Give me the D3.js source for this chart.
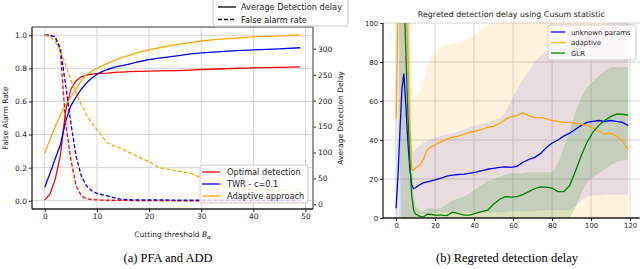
<!DOCTYPE html>
<html>
<head>
<meta charset="utf-8">
<script src="https://cdn.jsdelivr.net/npm/d3@7"></script>
<style>
  body { margin: 0; background: #fff; }
  text { font-family: "DejaVu Sans", sans-serif; fill: #222; }
  .caption { font-family: "Liberation Serif", serif; font-size: 12.5px; fill: #000; }
</style>
</head>
<body>
<svg id="chart" width="640" height="269"></svg>
<script>
// ---------- data, left panel (PFA and ADD) ----------
const thresholds = [0,1,2,3,4,5,6,7,8,9,10,11,12,13,14,15,16,18,20,22,25,28,30,33,36,40,45,49];

// false alarm rate (left axis, dashed)
const pfaOptimal  = [1.0,1.0,0.99,0.9,0.47,0.25,0.09,0.03,0.012,0.007,0.005,0.004,0.003,0.003,0.002,0.002,0.002,0.001,0.001,0.001,0,0,0,0,0,0,0,0];
const pfaTwr      = [1.0,1.0,0.99,0.92,0.7,0.47,0.27,0.15,0.09,0.06,0.045,0.037,0.03,0.02,0.012,0.008,0.006,0.005,0.005,0.005,0.004,0.004,0.004,0.003,0.003,0.003,0.003,0.003];
const pfaAdaptive = [1.0,0.99,0.96,0.91,0.82,0.73,0.65,0.58,0.52,0.47,0.43,0.39,0.35,0.335,0.325,0.31,0.295,0.265,0.235,0.2,0.183,0.165,0.14,0.1,0.075,0.066,0.065,0.064];

// average detection delay (right axis, solid)
const addOptimal  = [8,20,48,95,180,222,238,246,249,251,252,252.5,253,254,255,255,256,256.5,257,257.5,258,259,260,261,262,263,264,265];
const addTwr      = [33,60,88,115,160,190,207,222,234,243,251,256,260,263,266,268,270,275,279,282,286,290,292,294,296,298,300,302];
const addAdaptive = [99,125,150,172,192,207,222,238,250,257,262,267,272,276,280,284,287,293,298,302,308,312,315,318,320,323,325,327];

const leftSeries = ["Optimal detection", "TWR - c=0.1", "Adaptive approach"];

// ---------- data, right panel (regreted delay) ----------
const steps = [0,1,2,3,4,5,6,7,8,9,10,12,14,16,18,20,23,26,29,32,35,38,41,44,47,50,53,56,59,62,65,68,71,74,77,80,83,86,89,92,95,98,101,104,107,110,113,116,119];

const unknownMean = [5,22,45,66,74,58,40,26,17,15,15.5,17,18,18.5,19,19.5,20.5,21.5,22,22.3,22.5,23,23.5,24.3,25,25.5,26,26.2,26,26.5,28.5,30,31,33,36,38.5,40,42,43.5,45.5,47.5,49,49.5,50,49.5,50,49.5,49,47.5];
const unknownLo   = [-5,-10,-40,-40,-50,-50,-40,-5,-3,-3,-3,1,2,2,2.5,2.5,3,3,3,3,3,3,3,3,3,3,3,3,3.5,3.5,3.5,3.5,3.5,4,4,4,4,4,4,6,9,11,11.5,11.5,12,12,12,12,12];
const unknownHi   = [15,60,140,180,200,170,120,60,38,34,35,37,38.5,39.5,40.5,41,42,43,43.5,44.5,45.5,46.5,47.5,48.5,49,50,51,54,60,66,71,75,80,83,85.5,87,88.5,90,91,92.5,94,95.5,96.5,97.5,99,100,102,104,106];

const adaptiveMean = [51,105,150,165,150,125,85,45,25,24.5,25.5,27,30,35,36.5,37.5,39,40.5,41.5,42,43,44,44.5,45.5,46.5,47,48.5,50.5,52,52.5,54,52.5,51.5,51.5,51,50,49.5,49,49,48.5,48,47.5,46,44.5,43,43.5,42,39.5,35];
const adaptiveLo   = [40,45,30,0,-30,-40,-40,-30,-20,-15,-10,-10,-10,-10,-10,-10,-10,-10,-10,-10,-10,-10,-10,-10,-10,-10,-10,-10,-10,-10,-10,-10,-10,-10,-10,-10,-10,-10,-10,-10,-10,-10,-10,-10,-10,-10,-10,-10,-10];
const adaptiveHi   = [62,180,300,330,300,280,200,120,70,63,63,64,70,78,83,85,87.5,89,89.5,90,91,92.5,94,97,99,101,103,105,106,107,108,108,108,108,108,108,108,108,108,108,108,108,108,108,108,108,108,108,108];

const glrMean = [130,180,200,170,120,85,55,30,12,4,2,1,0.5,2,1.8,1.5,1.5,1.2,3,2.2,1.5,1.5,2.5,3.3,4,7,9.5,11,10.7,11,12,13.5,15,16,15.8,15.3,13.5,13.5,16.5,24,32,39,44,47.5,50,52,53.3,53.2,52.8];
const glrLo   = [120,150,20,-50,-50,-50,-40,-20,-10,-5,-3,-3,-3,-3,-3,-3,-3,-3,-3,-3,-3,-3,-3,-3,-3,-3,-2,-2,-2,-2,-2,-2,-2,-2,-2,-2,-2,-1,0,5,13,18,21,23,25,27,28.5,29.5,30];
const glrHi   = [140,210,300,350,300,250,170,90,35,12,6,4,3.5,5,5,4.5,5,7,9,10,11,13,15,17,19,20,21,22,23,23,23,23.5,23.5,23.5,23.5,23.5,28,36,45,54,62,67,70,73,75.5,77,77.5,77.5,77.5];

const rightSeries = ["unknown params", "adaptive", "GLR"];

// ---------- setup ----------
const svg = d3.select("#chart");
const red = "#ff0000", blue = "#0000ff", orange = "#ffa500", green = "#008000";
const gridColor = "#d4d4d4";

function styleAxis(g, size) {
  g.select(".domain").remove();
  g.selectAll(".tick line").attr("stroke", "#222");
  g.selectAll(".tick text").style("font-size", size + "px").attr("fill", "#222");
}

// ================= left panel =================
const L = {x0: 32, x1: 313, y0: 27, y1: 209};
const xL = d3.scaleLinear().domain([-2.45, 51.45]).range([L.x0, L.x1]);
const yL = d3.scaleLinear().domain([-0.05, 1.05]).range([L.y1, L.y0]);
const yR = d3.scaleLinear().domain([-9, 342]).range([L.y1, L.y0]);

const left = svg.append("g");

left.append("clipPath").attr("id", "clipL")
  .append("rect").attr("x", L.x0).attr("y", L.y0).attr("width", L.x1 - L.x0).attr("height", L.y1 - L.y0);

// grid
const xTicksL = [0, 10, 20, 30, 40, 50];
const yTicksL = [0, 0.2, 0.4, 0.6, 0.8, 1.0];
left.append("g").selectAll("line").data(xTicksL).join("line")
  .attr("x1", d => xL(d)).attr("x2", d => xL(d)).attr("y1", L.y0).attr("y2", L.y1)
  .attr("stroke", gridColor).attr("stroke-width", 1);
left.append("g").selectAll("line").data(yTicksL).join("line")
  .attr("x1", L.x0).attr("x2", L.x1).attr("y1", d => yL(d)).attr("y2", d => yL(d))
  .attr("stroke", gridColor).attr("stroke-width", 1);

// axes
left.append("g").attr("transform", `translate(0,${L.y1})`)
  .call(d3.axisBottom(xL).tickValues(xTicksL).tickSize(3).tickPadding(2))
  .call(g => styleAxis(g, 7.5));
left.append("g").attr("transform", `translate(${L.x0},0)`)
  .call(d3.axisLeft(yL).tickValues(yTicksL).tickFormat(d3.format(".1f")).tickSize(3).tickPadding(2))
  .call(g => styleAxis(g, 7.5));
left.append("g").attr("transform", `translate(${L.x1},0)`)
  .call(d3.axisRight(yR).tickValues([0, 50, 100, 150, 200, 250, 300]).tickSize(3).tickPadding(2))
  .call(g => styleAxis(g, 7.5));

// curves
const pfaData = [pfaOptimal, pfaTwr, pfaAdaptive];
const addData = [addOptimal, addTwr, addAdaptive];
const colorsL = [red, blue, orange];

const plotL = left.append("g").attr("clip-path", "url(#clipL)");
addData.forEach((vals, k) => {
  plotL.append("path")
    .datum(vals)
    .attr("fill", "none").attr("stroke", colorsL[k]).attr("stroke-width", 1.3)
    .attr("d", d3.line().x((d, i) => xL(thresholds[i])).y(d => yR(d)));
});
pfaData.forEach((vals, k) => {
  plotL.append("path")
    .datum(vals)
    .attr("fill", "none").attr("stroke", colorsL[k]).attr("stroke-width", 1.3)
    .attr("stroke-dasharray", "4,2")
    .attr("d", d3.line().x((d, i) => xL(thresholds[i])).y(d => yL(d)));
});

// spines
left.append("line").attr("x1", L.x0).attr("x2", L.x1).attr("y1", L.y0).attr("y2", L.y0).attr("stroke", "#777").attr("stroke-width", 1.5);
left.append("line").attr("x1", L.x1).attr("x2", L.x1).attr("y1", L.y0).attr("y2", L.y1).attr("stroke", "#777").attr("stroke-width", 1.5);
left.append("line").attr("x1", L.x0).attr("x2", L.x0).attr("y1", L.y0).attr("y2", L.y1).attr("stroke", "#222").attr("stroke-width", 1.3);
left.append("line").attr("x1", L.x0).attr("x2", L.x1).attr("y1", L.y1).attr("y2", L.y1).attr("stroke", "#222").attr("stroke-width", 1.3);

// axis labels
left.append("text").attr("transform", `translate(8,${(L.y0 + L.y1) / 2}) rotate(-90)`)
  .attr("text-anchor", "middle").style("font-size", "7.5px").text("False Alarm Rate");
left.append("text").attr("transform", `translate(343,${(L.y0 + L.y1) / 2}) rotate(-90)`)
  .attr("text-anchor", "middle").style("font-size", "7.5px").text("Average Detection Delay");
const xlab = left.append("text").attr("x", (L.x0 + L.x1) / 2).attr("y", 237)
  .attr("text-anchor", "middle").style("font-size", "7.5px");
xlab.append("tspan").text("Cutting threshold ");
xlab.append("tspan").style("font-style", "italic").text("B");
xlab.append("tspan").attr("dy", 2).style("font-size", "5.5px").style("font-style", "italic").text("α");

// legend: line styles
const lg1 = left.append("g").attr("transform", "translate(213,-1)");
lg1.append("rect").attr("width", 135).attr("height", 27).attr("rx", 2)
  .attr("fill", "#fff").attr("fill-opacity", 0.85).attr("stroke", "#ccc");
[["Average Detection delay", null], ["False alarm rate", "4,2"]].forEach((e, i) => {
  const y = 8 + i * 12.5;
  lg1.append("line").attr("x1", 5).attr("x2", 23).attr("y1", y).attr("y2", y)
    .attr("stroke", "#000").attr("stroke-width", 1.3).attr("stroke-dasharray", e[1]);
  lg1.append("text").attr("x", 28).attr("y", y + 3).style("font-size", "8.2px").text(e[0]);
});

// legend: methods
const lg2 = left.append("g").attr("transform", "translate(200,165)");
lg2.append("rect").attr("width", 108).attr("height", 38).attr("rx", 2)
  .attr("fill", "#fff").attr("fill-opacity", 0.8).attr("stroke", "#ccc");
leftSeries.forEach((name, i) => {
  const y = 7 + i * 12;
  lg2.append("line").attr("x1", 2).attr("x2", 20).attr("y1", y).attr("y2", y)
    .attr("stroke", colorsL[i]).attr("stroke-width", 1.3);
  lg2.append("text").attr("x", 27).attr("y", y + 3).style("font-size", "8.2px").text(name);
});

// ================= right panel =================
const R = {x0: 383, x1: 639.6, y0: 23, y1: 218};
const xR = d3.scaleLinear().domain([-6.7, 124.9]).range([R.x0, R.x1]);
const yV = d3.scaleLinear().domain([0, 100]).range([R.y1, R.y0]);

const right = svg.append("g");
right.append("clipPath").attr("id", "clipR")
  .append("rect").attr("x", R.x0).attr("y", R.y0).attr("width", R.x1 - R.x0).attr("height", R.y1 - R.y0);

const xTicksR = [0, 20, 40, 60, 80, 100, 120];
const yTicksR = [0, 20, 40, 60, 80, 100];
right.append("g").selectAll("line").data(xTicksR).join("line")
  .attr("x1", d => xR(d)).attr("x2", d => xR(d)).attr("y1", R.y0).attr("y2", R.y1)
  .attr("stroke", gridColor);
right.append("g").selectAll("line").data(yTicksR).join("line")
  .attr("x1", R.x0).attr("x2", R.x1).attr("y1", d => yV(d)).attr("y2", d => yV(d))
  .attr("stroke", gridColor);

const plotR = right.append("g").attr("clip-path", "url(#clipR)");
const bands = [
  {mean: unknownMean, lo: unknownLo, hi: unknownHi, color: blue, alpha: 0.1},
  {mean: adaptiveMean, lo: adaptiveLo, hi: adaptiveHi, color: orange, alpha: 0.13},
  {mean: glrMean, lo: glrLo, hi: glrHi, color: green, alpha: 0.15}
];
bands.forEach(b => {
  plotR.append("path")
    .datum(steps)
    .attr("fill", b.color).attr("fill-opacity", b.alpha)
    .attr("d", d3.area().x(d => xR(d)).y0((d, i) => yV(b.lo[i])).y1((d, i) => yV(b.hi[i])));
});
bands.forEach(b => {
  plotR.append("path")
    .datum(steps)
    .attr("fill", "none").attr("stroke", b.color).attr("stroke-width", 1.3)
    .attr("d", d3.line().x(d => xR(d)).y((d, i) => yV(b.mean[i])));
});

right.append("g").attr("transform", `translate(0,${R.y1})`)
  .call(d3.axisBottom(xR).tickValues(xTicksR).tickSize(3).tickPadding(2))
  .call(g => styleAxis(g, 6.8));
right.append("g").attr("transform", `translate(${R.x0},0)`)
  .call(d3.axisLeft(yV).tickValues(yTicksR).tickSize(3).tickPadding(2))
  .call(g => styleAxis(g, 6.8));

right.append("line").attr("x1", R.x0).attr("x2", R.x0).attr("y1", R.y0).attr("y2", R.y1).attr("stroke", "#222").attr("stroke-width", 1.3);
right.append("line").attr("x1", R.x0).attr("x2", R.x1).attr("y1", R.y1).attr("y2", R.y1).attr("stroke", "#222").attr("stroke-width", 1.3);

right.append("text").attr("x", (R.x0 + R.x1) / 2).attr("y", 17)
  .attr("text-anchor", "middle").style("font-size", "7.9px")
  .text("Regreted detection delay using Cusum statistic");

const lg3 = right.append("g").attr("transform", "translate(548,25)");
lg3.append("rect").attr("width", 88).attr("height", 35).attr("rx", 2)
  .attr("fill", "#fff").attr("fill-opacity", 0.8).attr("stroke", "#ccc");
rightSeries.forEach((name, i) => {
  const y = 7 + i * 10.5;
  lg3.append("line").attr("x1", 3).attr("x2", 17).attr("y1", y).attr("y2", y)
    .attr("stroke", bands[i].color).attr("stroke-width", 1.3);
  lg3.append("text").attr("x", 23).attr("y", y + 2.5).style("font-size", "6.9px").text(name);
});

// captions
svg.append("text").attr("class", "caption").attr("x", 168).attr("y", 262)
  .attr("text-anchor", "middle").text("(a) PFA and ADD");
svg.append("text").attr("class", "caption").attr("x", 507).attr("y", 262)
  .attr("text-anchor", "middle").text("(b) Regreted detection delay");
</script>
</body>
</html>
